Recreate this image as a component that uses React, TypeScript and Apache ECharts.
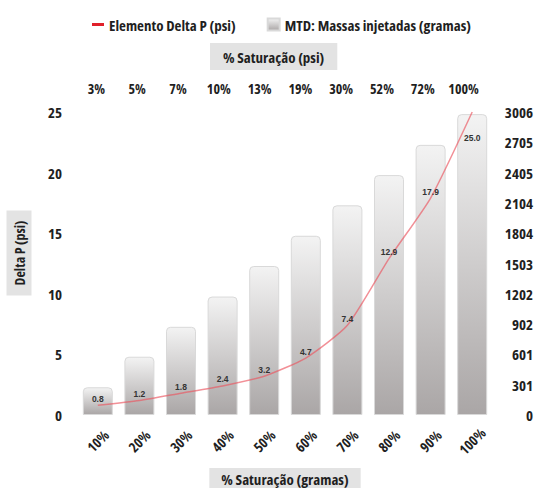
import React, { useEffect, useRef } from "react";
import * as echarts from "echarts";

const massCategories = ["10%", "20%", "30%", "40%", "50%", "60%", "70%", "80%", "90%", "100%"];
const psiCategories = ["3%", "5%", "7%", "10%", "13%", "19%", "30%", "52%", "72%", "100%"];
const massValues = [275, 578, 875, 1175, 1478, 1778, 2080, 2380, 2680, 2985];
const deltaP = [0.8, 1.2, 1.8, 2.4, 3.2, 4.7, 7.4, 12.9, 17.9, 25.0];
const massAxisMax = 3006;
const massAxisStep = 300.6;

const FONT = "'Open Sans', 'Noto Sans', sans-serif";
const ST = "condensed";
const TXT = { fontFamily: FONT, fontStyle: ST, fontWeight: "bold", color: "#1f1f1f" };

export default function App() {
  const ref = useRef<HTMLDivElement>(null);
  useEffect(() => {
    if (!ref.current) return;
    document.body.style.margin = "0";
    const styleEl = document.createElement("style");
    styleEl.textContent = "#root svg text { font-stretch: condensed; }";
    document.head.appendChild(styleEl);
    const chart = echarts.init(ref.current, null, { renderer: "svg" });
    const barGradient = new echarts.graphic.LinearGradient(0, 0, 0, 1, [
      { offset: 0, color: "#f3f3f3" },
      { offset: 1, color: "#aaa6a6" },
    ]);
    chart.setOption({
      animation: false,
      backgroundColor: "#ffffff",
      title: {
        text: "% Saturação (psi)",
        left: 210,
        top: 43,
        backgroundColor: "#e3e3e3",
        padding: [6, 13, 6, 13],
        textStyle: { ...TXT, fontSize: 15 },
      },
      legend: {
        left: 87,
        top: 12,
        right: 0,
        itemWidth: 12,
        itemHeight: 12,
        itemGap: 31,
        symbolKeepAspect: true,
        textStyle: { ...TXT, fontSize: 15 },
        data: [
          { name: "Elemento Delta P (psi)", icon: "path://M0,0H12V3H0Z", itemStyle: { color: "#e0202a" } },
          { name: "MTD: Massas injetadas (gramas)", icon: "rect" },
        ],
      },
      graphic: [
        {
          type: "text",
          x: 19,
          y: 253,
          rotation: Math.PI / 2,
          style: {
            text: "Delta P (psi)",
            font: `${ST} bold 14px ${FONT}`,
            fill: "#1f1f1f",
            align: "center",
            verticalAlign: "middle",
            backgroundColor: "#e3e3e3",
            padding: [6, 10, 5, 10],
          },
        },
      ],
      grid: [
        { left: 77, right: 41, top: 112, bottom: 73, outerBoundsMode: "none" },
        { left: 76, right: 50, top: 112, bottom: 73, outerBoundsMode: "none" },
      ],
      xAxis: [
        {
          type: "category",
          gridIndex: 0,
          data: massCategories,
          position: "bottom",
          axisLine: { show: false },
          axisTick: { show: false },
          axisLabel: {
            ...TXT,
            interval: 0,
            rotate: 45,
            align: "center",
            verticalAlign: "middle",
            margin: 26,
            fontSize: 14,
          },
          name: "% Saturação (gramas)",
          nameLocation: "middle",
          nameGap: 53,
          nameTextStyle: {
            ...TXT,
            fontSize: 15,
            backgroundColor: "#e3e3e3",
            padding: [3, 12, 2, 12],
          },
        },
        {
          type: "category",
          gridIndex: 1,
          data: psiCategories,
          position: "top",
          axisLine: { show: false },
          axisTick: { show: false },
          axisLabel: { ...TXT, interval: 0, margin: 17, fontSize: 14 },
        },
      ],
      yAxis: [
        {
          type: "value",
          gridIndex: 0,
          min: 0,
          max: 25,
          interval: 5,
          axisLine: { show: false },
          axisTick: { show: false },
          splitLine: { show: false },
          axisLabel: { ...TXT, margin: 15, fontSize: 15 },
        },
        {
          type: "value",
          gridIndex: 0,
          position: "right",
          min: 0,
          max: massAxisMax,
          interval: massAxisStep,
          axisLine: { show: false },
          axisTick: { show: false },
          splitLine: { show: false },
          axisLabel: {
            ...TXT,
            margin: 40,
            align: "right",
            fontSize: 15,
            formatter: (v: number) => String(Math.round(v)),
          },
        },
        { type: "value", gridIndex: 1, show: false, min: 0, max: 1 },
      ],
      series: [
        {
          name: "MTD: Massas injetadas (gramas)",
          type: "bar",
          xAxisIndex: 0,
          yAxisIndex: 1,
          barWidth: 30,
          data: massValues,
          itemStyle: {
            color: barGradient,
            borderColor: "#d9d9d9",
            borderWidth: 1,
            borderRadius: [4, 4, 0, 0],
          },
          z: 1,
        },
        {
          name: "Elemento Delta P (psi)",
          type: "line",
          xAxisIndex: 0,
          yAxisIndex: 0,
          data: deltaP.map((v, i) =>
            i === deltaP.length - 1
              ? { value: v, label: { position: "bottom", distance: 20 } }
              : v
          ),
          symbol: "circle",
          symbolSize: 2,
          showSymbol: true,
          smooth: 0.2,
          lineStyle: { color: "rgba(235, 85, 95, 0.65)", width: 1.5 },
          itemStyle: { color: "rgba(0,0,0,0)" },
          label: {
            show: true,
            position: "top",
            distance: 1,
            fontFamily: "'Liberation Sans', Arial, sans-serif",
            fontWeight: "bold",
            fontSize: 8.5,
            color: "#333",
            formatter: (p: any) => Number(p.value).toFixed(1),
          },
          z: 3,
        },
      ],
    });
    return () => {
      chart.dispose();
      styleEl.remove();
    };
  }, []);
  return <div ref={ref} style={{ width: 534, height: 488 }} />;
}
